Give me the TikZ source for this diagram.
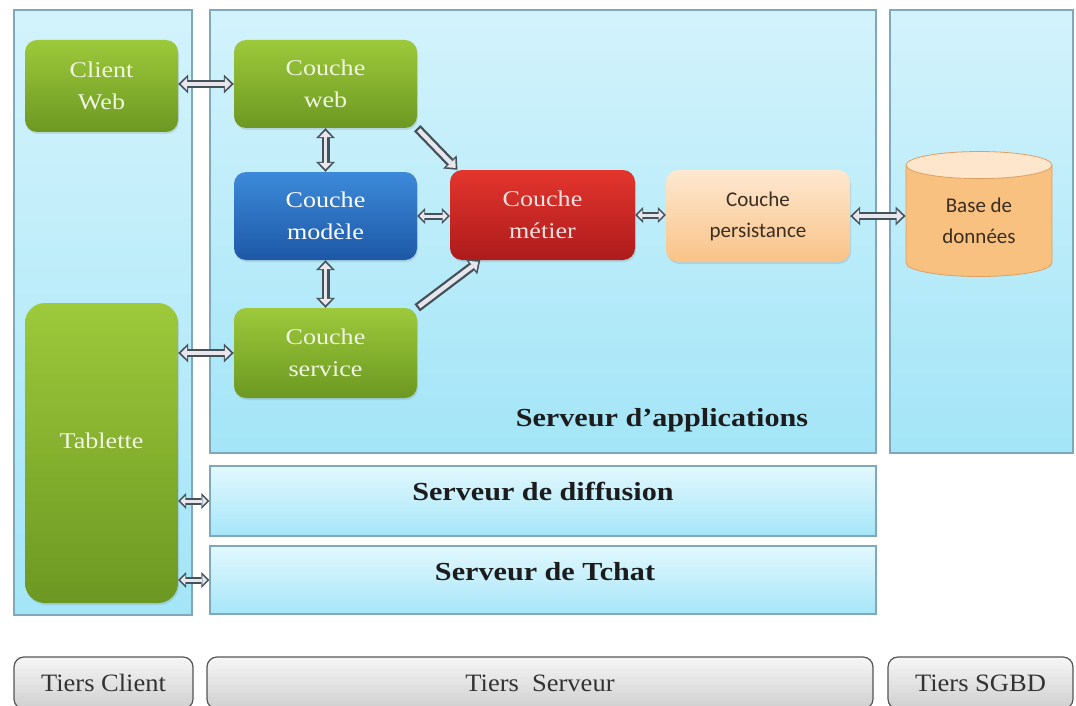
\documentclass[tikz,border=0pt]{standalone}
\usepackage{fontspec}
\setmainfont{Liberation Serif}
\newfontfamily\boxfont{Liberation Serif}[FakeStretch=1.16]
\newfontfamily\sansbox{Carlito}
\newfontfamily\tierfont{Liberation Serif}[FakeStretch=1.06]
\usetikzlibrary{shapes.geometric,arrows.meta,shadows}

\definecolor{panelTop}{HTML}{D3F3FC}
\definecolor{panelBot}{HTML}{A3E5F7}
\definecolor{stripTop}{HTML}{E2F8FE}
\definecolor{stripBot}{HTML}{A6E6F8}
\definecolor{panelEdge}{HTML}{7FA8BA}
\definecolor{greenTop}{HTML}{9DC93B}
\definecolor{greenBot}{HTML}{6C9822}
\definecolor{greenText}{HTML}{F1F6E2}
\definecolor{blueTop}{HTML}{3D8ADA}
\definecolor{blueBot}{HTML}{1D58A6}
\definecolor{redTop}{HTML}{E3352D}
\definecolor{redBot}{HTML}{AD1B1C}
\definecolor{redText}{HTML}{F8E2E0}
\definecolor{peachTop}{HTML}{FEE8D0}
\definecolor{peachBot}{HTML}{F9C388}
\definecolor{peachText}{HTML}{3A2D22}
\definecolor{dbBody}{HTML}{F8C17F}
\definecolor{dbTop}{HTML}{FDE6CB}
\definecolor{dbEdge}{HTML}{DDA062}
\definecolor{arrowEdge}{HTML}{46525A}
\definecolor{arrowFill}{HTML}{E6E6EC}
\definecolor{tierTop}{HTML}{F6F6F6}
\definecolor{tierBot}{HTML}{CFCFCF}
\definecolor{tierEdge}{HTML}{555555}
\definecolor{tierInk}{HTML}{333333}
\definecolor{titleInk}{HTML}{1C1C1C}

\tikzset{
  panel/.style={draw=panelEdge, line width=1.1pt, top color=panelTop, bottom color=panelBot, inner sep=0pt},
  strip/.style={draw=panelEdge, line width=1.1pt, top color=stripTop, bottom color=stripBot, inner sep=0pt},
  layer/.style={rounded corners=12pt, inner sep=0pt, align=center,
    minimum width=183, minimum height=88,
    drop shadow={shadow xshift=1pt, shadow yshift=-2pt, opacity=0.22},
    font=\boxfont\fontsize{22.5}{32}\selectfont},
  greenbox/.style={layer, top color=greenTop, bottom color=greenBot, text=greenText},
  bluebox/.style={layer, top color=blueTop, bottom color=blueBot, text=white},
  redbox/.style={layer, top color=redTop, bottom color=redBot, text=redText},
  peachbox/.style={layer, top color=peachTop, bottom color=peachBot, text=peachText,
    font=\sansbox\fontsize{21}{31}\selectfont},
  dbcyl/.style={cylinder, shape border rotate=90, shape aspect=0.37, draw=dbEdge, line width=0.8pt,
    cylinder uses custom fill, cylinder body fill=dbBody, cylinder end fill=dbTop,
    minimum width=146, minimum height=125, inner sep=0pt, align=center, text=peachText,
    font=\sansbox\fontsize{21}{31}\selectfont},
  title/.style={text=titleInk, font=\boxfont\bfseries\fontsize{26}{30}\selectfont, inner sep=0pt},
  tier/.style={draw=tierEdge, line width=1.2pt, rounded corners=10pt, top color=tierTop, bottom color=tierBot,
    minimum height=52, inner sep=0pt, text=tierInk, font=\tierfont\fontsize{25}{28}\selectfont},
  dbl/.style={draw=arrowEdge, line width=8pt,
    {Triangle[length=10pt,width=19pt,line width=0pt]}-{Triangle[length=10pt,width=19pt,line width=0pt]},
    postaction={draw=arrowFill, line width=3.6pt, shorten <=2.6pt, shorten >=2.6pt,
      {Triangle[length=6.3pt,width=12.5pt,line width=0pt]}-{Triangle[length=6.3pt,width=12.5pt,line width=0pt]}}},
  dbls/.style={draw=arrowEdge, line width=7pt,
    {Triangle[length=8pt,width=16pt,line width=0pt]}-{Triangle[length=8pt,width=16pt,line width=0pt]},
    postaction={draw=arrowFill, line width=3pt, shorten <=2.3pt, shorten >=2.3pt,
      {Triangle[length=4.8pt,width=9.8pt,line width=0pt]}-{Triangle[length=4.8pt,width=9.8pt,line width=0pt]}}},
  sgl/.style={draw=arrowEdge, line width=9pt,
    -{Triangle[length=11pt,width=19pt,line width=0pt]},
    postaction={draw=arrowFill, line width=4.4pt, shorten <=2.3pt, shorten >=2.6pt,
      -{Triangle[length=7pt,width=12.5pt,line width=0pt]}}},
}

\begin{document}
\begin{tikzpicture}[x=1pt, y=-1pt]
\clip (0,0) rectangle (1076,706);
\fill[white] (0,0) rectangle (1076,706);

% tier panels
\node[panel, minimum width=178, minimum height=605] (clientp) at (103,312.5) {};
\node[panel, minimum width=666, minimum height=443] (appp) at (543,231.5) {};
\node[panel, minimum width=183, minimum height=443] (sgbdp) at (981.5,231.5) {};
\node[strip, minimum width=666, minimum height=70] (diff) at (543,501) {};
\node[strip, minimum width=666, minimum height=68] (tchat) at (543,580) {};

\node[title] (tapp) at (662,420) {Serveur d’applications};
\node[title] (tdiff) at ([yshift=9pt]diff.center) {Serveur de diffusion};
\node[title] (ttchat) at ([xshift=2pt,yshift=8pt]tchat.center) {Serveur de Tchat};

% layers
\node[greenbox, minimum width=153, minimum height=92] (cweb) at (101.5,86) {Client\\Web};
\node[greenbox] (lweb) at (325.5,84) {Couche\\web};
\node[bluebox] (lmod) at (325.5,216) {Couche\\modèle};
\node[redbox, minimum width=185, minimum height=90] (lmet) at (542.5,215) {Couche\\métier};
\node[peachbox, minimum width=184, minimum height=92] (lper) at (758,216) {Couche\\persistance};
\node[greenbox, minimum height=90] (lsrv) at (325.5,353) {Couche\\service};
\node[greenbox, minimum width=153, minimum height=300, rounded corners=20pt] (tab) at (101.5,453) {\raisebox{5pt}[0pt][0pt]{Tablette}};
\node[dbcyl] (db) at (979,221) {Base de\\données};

% connectors
\draw[dbl] (cweb.east |- lweb.west) -- (lweb.west);
\draw[dbl] (lweb.south) -- (lmod.north);
\draw[dbl] (lmod.south) -- (lsrv.north);
\draw[dbls] (lmod.east) -- (lmet.west |- lmod.east);
\draw[dbls] (lmet.east) -- (lper.west |- lmet.east);
\draw[dbl] (lper.east) -- (lper.east -| db.west);
\draw[sgl] (lweb.south east) -- (lmet.152);
\draw[sgl] (lsrv.north east) -- (lmet.216);
\draw[dbl] (tab.east |- lsrv.west) -- (lsrv.west);
\draw[dbls] (tab.east |- diff.west) -- (diff.west);
\draw[dbls] (tab.east |- tchat.west) -- (tchat.west);

% tiers
\node[tier, minimum width=179] (tclient) at (103.5,683) {Tiers Client};
\node[tier, minimum width=666] (tserveur) at (540,683) {Tiers\ \ Serveur};
\node[tier, minimum width=185] (tsgbd) at (980.5,683) {Tiers SGBD};
\end{tikzpicture}
\end{document}
